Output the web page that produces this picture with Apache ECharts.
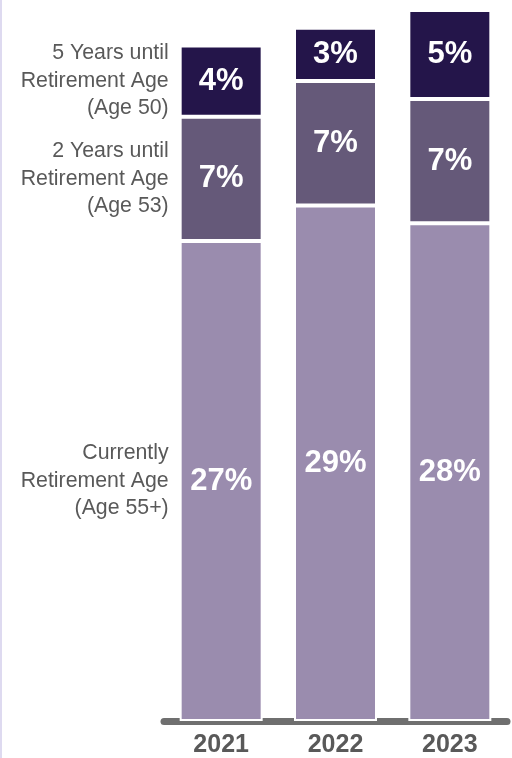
<!DOCTYPE html>
<html>
<head>
<meta charset="utf-8">
<script src="https://cdn.jsdelivr.net/npm/echarts@6/dist/echarts.min.js"></script>
<style>
  html, body { margin: 0; padding: 0; background: #ffffff; }
  #chart { width: 510px; height: 758px; border-left: 2px solid #dedaf0; }
</style>
</head>
<body>
<div id="chart"></div>
<script>
// Share of respondents by retirement timing, per survey year
const years = ['2021', '2022', '2023'];
const seriesNames = [
  'Currently\nRetirement Age\n(Age 55+)',
  '2 Years until\nRetirement Age\n(Age 53)',
  '5 Years until\nRetirement Age\n(Age 50)'
];
const currentlyEligible = [27, 29, 28];
const twoYearsUntil = [7, 7, 7];
const fiveYearsUntil = [4, 3, 5];
const segmentColors = ['#9a8cae', '#655979', '#24154a'];

const valueSets = [currentlyEligible, twoYearsUntil, fiveYearsUntil];

const chart = echarts.init(document.getElementById('chart'));

// Visible stacked bars carrying the value labels
const barSeries = valueSets.map((vals, i) => ({
  name: seriesNames[i],
  type: 'bar',
  stack: 'shares',
  barWidth: 83,
  barGap: '-100%',
  data: vals,
  itemStyle: { color: segmentColors[i], borderColor: '#ffffff', borderWidth: 2 },
  label: {
    show: true,
    position: 'inside',
    formatter: p => p.value + '%',
    color: '#ffffff',
    fontFamily: 'Liberation Sans, Arial, sans-serif',
    fontWeight: 'bold',
    fontSize: 31
  }
}));

// Transparent twin stack that names each segment beside the first bar
const nameSeries = valueSets.map((vals, i) => ({
  name: seriesNames[i] + ' name',
  type: 'bar',
  stack: 'names',
  barWidth: 83,
  barGap: '-100%',
  silent: true,
  data: vals.map((v, j) => ({
    value: v,
    label: { show: j === 0 }
  })),
  itemStyle: { color: 'rgba(0,0,0,0)' },
  label: {
    position: 'left',
    distance: 11,
    formatter: () => seriesNames[i],
    align: 'right',
    color: '#595959',
    fontFamily: 'Liberation Sans, Arial, sans-serif',
    fontSize: 21.3,
    lineHeight: 27.5
  }
}));

chart.setOption({
  animation: false,
  grid: { left: 162, right: 5, top: 10, bottom: 31.5 },
  xAxis: {
    type: 'category',
    data: years,
    axisLine: { show: true, lineStyle: { color: '#6f6f6f', width: 7 } },
    axisTick: { show: false },
    axisLabel: {
      color: '#595959',
      fontFamily: 'Liberation Sans, Arial, sans-serif',
      fontWeight: 'bold',
      fontSize: 25,
      margin: 12
    }
  },
  yAxis: {
    type: 'value',
    min: 0,
    max: 40,
    show: false,
    splitLine: { show: false }
  },
  series: barSeries.concat(nameSeries)
});
</script>
</body>
</html>
